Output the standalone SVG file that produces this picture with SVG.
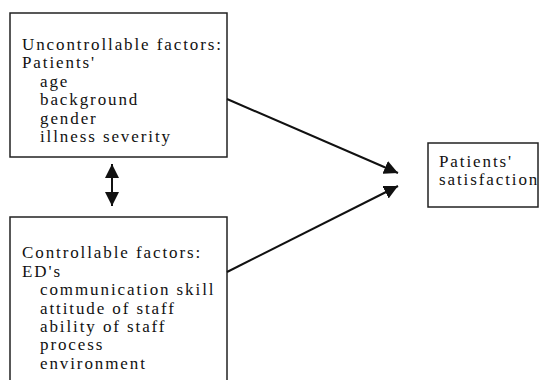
<svg xmlns="http://www.w3.org/2000/svg" width="540" height="380" viewBox="0 0 540 380">
<defs>
<style>
.box{fill:#fff;stroke:#222;stroke-width:1.5}
.t{font-size:17px;letter-spacing:1.9px;fill:#111}
.c{stroke:#111;stroke-width:2;fill:none}
</style>
<marker id="ah" viewBox="0 0 14 14" refX="14" refY="7" markerWidth="14" markerHeight="14" markerUnits="userSpaceOnUse" orient="auto-start-reverse">
<path d="M0,0 L14,7 L0,14 Z" fill="#111"/>
</marker>
</defs>
<rect width="540" height="380" fill="#fff"/>
<g font-family="'Liberation Serif', serif">
<g id="uncontrollable">
<rect class="box" x="10" y="13" width="217" height="144"/>
<text class="t" x="22" y="50">Uncontrollable factors:</text>
<text class="t" x="22" y="68">Patients'</text>
<text class="t" x="40" y="87">age</text>
<text class="t" x="40" y="105">background</text>
<text class="t" x="40" y="124">gender</text>
<text class="t" x="40" y="142">illness severity</text>
</g>
<g id="controllable">
<rect class="box" x="10" y="217" width="217" height="170"/>
<text class="t" x="22" y="258">Controllable factors:</text>
<text class="t" x="22" y="277">ED's</text>
<text class="t" x="40" y="295">communication skill</text>
<text class="t" x="40" y="314">attitude of staff</text>
<text class="t" x="40" y="332">ability of staff</text>
<text class="t" x="40" y="350">process</text>
<text class="t" x="40" y="369">environment</text>
</g>
<g id="satisfaction">
<rect class="box" x="428" y="143" width="110" height="64"/>
<text class="t" x="439" y="167">Patients'</text>
<text class="t" x="439" y="185">satisfaction</text>
</g>
</g>
<g id="connectors">
<line class="c" x1="112" y1="164" x2="112" y2="206" marker-start="url(#ah)" marker-end="url(#ah)"/>
<line class="c" x1="227" y1="99" x2="398" y2="173" marker-end="url(#ah)"/>
<line class="c" x1="227" y1="272" x2="398" y2="186" marker-end="url(#ah)"/>
</g>
</svg>
